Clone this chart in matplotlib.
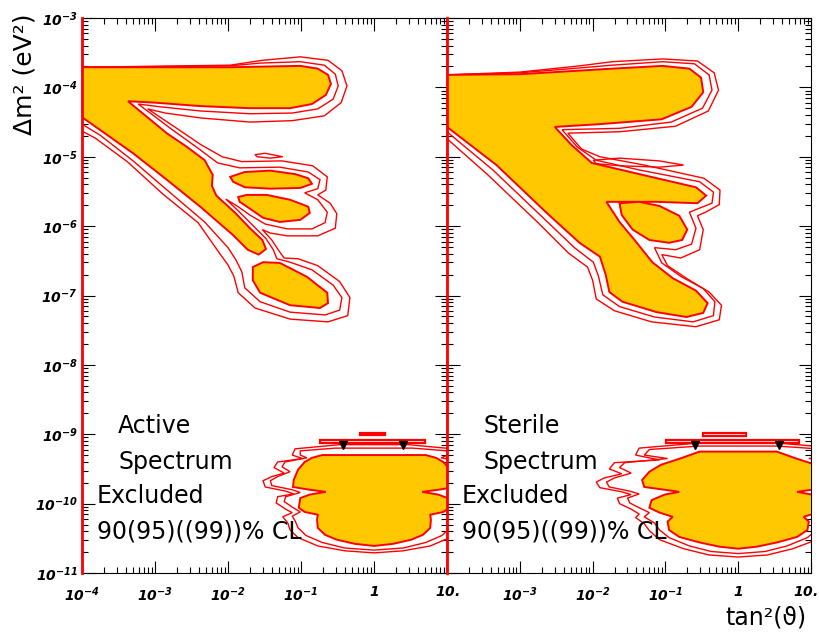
import numpy as np
import matplotlib.pyplot as plt
from matplotlib.ticker import FixedLocator, FixedFormatter, LogLocator, NullFormatter

# vertices are log10(tan^2 theta), log10(dm^2 / eV^2)

# ---------------- Active panel ----------------
act_lma_x = [-4.00, -1.97, -1.01, -0.77, -0.63, -0.59, -0.66, -0.85, -1.15, -1.70, -2.38, -3.00, -3.37, -2.84,
             -2.56, -2.32, -2.21, -2.22, -2.16, -1.90, -1.70, -1.53, -1.48, -1.58, -1.73, -1.93, -2.38, -2.84,
             -3.30, -4.00]
act_lma_y = [-3.71, -3.71, -3.69, -3.73, -3.82, -3.95, -4.11, -4.24, -4.30, -4.30, -4.27, -4.22, -4.20, -4.66,
             -4.86, -5.05, -5.26, -5.42, -5.56, -5.81, -6.03, -6.20, -6.33, -6.41, -6.34, -6.13, -5.72, -5.33,
             -4.95, -4.43]
act_islA_x = [-1.97, -1.77, -1.42, -1.08, -0.90, -0.85, -1.01, -1.42, -1.77, -1.93]
act_islA_y = [-5.29, -5.22, -5.20, -5.25, -5.31, -5.39, -5.45, -5.46, -5.44, -5.36]
act_islB_x = [-1.86, -1.74, -1.47, -1.15, -0.90, -0.88, -1.01, -1.29, -1.52, -1.74, -1.84]
act_islB_y = [-5.58, -5.55, -5.55, -5.62, -5.72, -5.81, -5.91, -5.94, -5.88, -5.72, -5.65]
act_islC_x = [-1.66, -1.52, -1.29, -0.92, -0.64, -0.63, -0.74, -1.15, -1.56, -1.66]
act_islC_y = [-6.59, -6.52, -6.53, -6.73, -6.96, -7.11, -7.18, -7.14, -6.96, -6.78]
act_sliver_x = [-1.63, -1.49, -1.25, -1.42, -1.60]
act_sliver_y = [-4.97, -4.95, -5.00, -5.02, -5.00]

act_cl95_x = [-4.00, -1.97, -1.56, -1.01, -0.68, -0.53, -0.49, -0.56, -0.77, -1.12, -1.70, -2.38, -2.93, -3.23,
              -2.79, -2.42, -2.14, -1.84, -1.29, -0.90, -0.74, -0.77, -0.95, -0.77, -0.64, -0.67, -0.85, -1.19,
              -1.49, -1.70, -1.86, -2.03, -1.86, -1.64, -1.48, -1.38, -1.33, -1.15, -0.85, -0.56, -0.44, -0.47,
              -0.67, -1.15, -1.56, -1.77, -1.81, -1.89, -2.00, -2.32, -2.79, -3.30, -3.75, -4.00]
act_cl95_y = [-3.71, -3.69, -3.65, -3.63, -3.68, -3.81, -3.98, -4.17, -4.31, -4.37, -4.38, -4.34, -4.28, -4.24,
              -4.59, -4.87, -5.09, -5.16, -5.15, -5.22, -5.33, -5.46, -5.52, -5.62, -5.80, -5.95, -6.04, -6.04,
              -5.97, -5.84, -5.72, -5.61, -5.78, -6.01, -6.18, -6.34, -6.47, -6.52, -6.63, -6.85, -7.03, -7.21,
              -7.28, -7.24, -7.09, -6.89, -6.66, -6.49, -6.31, -5.94, -5.52, -5.06, -4.69, -4.53]
act_cl99_x = [-4.00, -1.97, -1.53, -1.01, -0.63, -0.44, -0.37, -0.45, -0.68, -1.12, -1.70, -2.38, -2.86, -3.10,
              -2.73, -2.38, -2.08, -1.81, -1.26, -0.84, -0.64, -0.66, -0.77, -0.60, -0.51, -0.53, -0.77, -1.19,
              -1.42, -1.53, -1.40, -1.30, -1.23, -1.04, -0.77, -0.47, -0.33, -0.36, -0.63, -1.15, -1.63, -1.86,
              -1.92, -2.00, -2.11, -2.41, -2.89, -3.38, -3.82, -4.00]
act_cl99_y = [-3.71, -3.68, -3.61, -3.56, -3.61, -3.76, -3.98, -4.22, -4.41, -4.48, -4.50, -4.44, -4.37, -4.31,
              -4.57, -4.82, -5.00, -5.07, -5.06, -5.13, -5.29, -5.48, -5.55, -5.67, -5.82, -6.03, -6.14, -6.14,
              -6.10, -6.05, -6.20, -6.36, -6.46, -6.47, -6.57, -6.80, -7.03, -7.29, -7.38, -7.34, -7.18, -6.96,
              -6.72, -6.56, -6.40, -5.95, -5.54, -5.07, -4.73, -4.63]

# vacuum (just-so) region: left half, mirrored about tan^2 = 1
act_js_x = [-0.71, -0.85, -0.95, -1.04, -1.10, -1.11, -0.88, -0.66, -0.88, -1.01, -1.03, -0.95, -0.77, -0.78,
            -0.77, -0.67, -0.51, -0.26, 0.00]
act_js_y = [-9.30, -9.34, -9.40, -9.51, -9.66, -9.76, -9.80, -9.83, -9.87, -9.92, -10.06, -10.12, -10.16, -10.23,
            -10.35, -10.45, -10.52, -10.58, -10.61]
act_js95_x = [-0.53, -1.01, -1.01, -0.92, -1.22, -1.26, -1.15, -1.32, -1.42, -1.40, -1.12, -1.01, -1.21, -1.23,
              -1.12, -1.01, -1.12, -1.08, -1.04, -0.93, -0.71, -0.40, 0.00]
act_js95_y = [-9.20, -9.24, -9.30, -9.34, -9.40, -9.47, -9.54, -9.61, -9.67, -9.74, -9.80, -9.84, -9.90, -9.97,
              -10.05, -10.12, -10.18, -10.25, -10.35, -10.46, -10.56, -10.64, -10.67]
act_js99_x = [-0.47, -1.08, -1.12, -0.98, -1.32, -1.37, -1.23, -1.40, -1.52, -1.49, -1.21, -1.10, -1.32, -1.34,
              -1.21, -1.12, -1.25, -1.18, -1.15, -1.04, -0.77, -0.40, 0.00]
act_js99_y = [-9.15, -9.21, -9.30, -9.35, -9.40, -9.48, -9.56, -9.61, -9.67, -9.76, -9.82, -9.86, -9.90, -9.99,
              -10.08, -10.13, -10.19, -10.28, -10.38, -10.49, -10.61, -10.68, -10.71]
act_streak_x = [(-0.19, 0.15), (-0.74, 0.70)]
act_streak_y = [(-8.98, -9.01), (-9.08, -9.13)]
act_mark_x = [-0.42, 0.40]
act_mark_y = [-9.15, -9.15]

# ---------------- Sterile panel ----------------
ste_lma_x = [-4.00, -3.00, -1.73, -1.04, -0.67, -0.51, -0.48, -0.64, -1.05, -1.90, -2.52, -2.29, -2.01, -1.36,
             -0.58, -0.44, -0.56, -1.12, -1.81, -1.63, -1.40, -1.18, -0.90, -0.58, -0.42, -0.48, -0.71, -1.12,
             -1.59, -1.77, -1.82, -1.90, -2.18, -2.63, -3.32, -4.00]
ste_lma_y = [-3.82, -3.81, -3.73, -3.69, -3.73, -3.86, -4.07, -4.28, -4.46, -4.53, -4.57, -4.83, -5.09, -5.25,
             -5.44, -5.56, -5.67, -5.65, -5.65, -5.94, -6.23, -6.52, -6.75, -6.93, -7.11, -7.25, -7.31, -7.24,
             -7.09, -6.95, -6.70, -6.44, -6.24, -5.81, -5.12, -4.57]
ste_tongue_x = [-1.63, -1.36, -1.08, -0.81, -0.70, -0.77, -0.95, -1.22, -1.45, -1.60]
ste_tongue_y = [-5.67, -5.65, -5.71, -5.85, -6.05, -6.20, -6.24, -6.20, -6.05, -5.84]
ste_sliver_x = [-1.99, -1.63, -1.08, -0.75, -1.08, -1.63, -1.95]
ste_sliver_y = [-5.05, -5.02, -5.06, -5.12, -5.15, -5.13, -5.10]

ste_cl95_x = [-4.00, -3.00, -2.18, -1.73, -1.04, -0.60, -0.40, -0.36, -0.49, -0.92, -1.63, -2.42, -2.21, -1.95,
              -1.36, -0.53, -0.34, -0.36, -0.53, -0.67, -0.58, -0.64, -0.86, -1.15, -1.05, -0.78, -0.48, -0.32,
              -0.34, -0.62, -1.15, -1.63, -1.86, -1.92, -1.99, -2.25, -2.68, -3.37, -4.00]
ste_cl95_y = [-3.82, -3.79, -3.72, -3.68, -3.63, -3.66, -3.82, -4.04, -4.30, -4.50, -4.59, -4.61, -4.86, -5.05,
              -5.19, -5.36, -5.51, -5.67, -5.74, -5.80, -6.03, -6.26, -6.34, -6.31, -6.53, -6.73, -6.90, -7.09,
              -7.29, -7.38, -7.31, -7.16, -6.99, -6.72, -6.52, -6.31, -5.88, -5.19, -4.64]
ste_cl99_x = [-4.00, -3.00, -2.18, -1.73, -1.04, -0.56, -0.33, -0.27, -0.41, -0.86, -1.63, -2.34, -2.15, -1.90,
              -1.29, -0.47, -0.25, -0.26, -0.45, -0.56, -0.48, -0.53, -0.79, -1.05, -0.97, -0.70, -0.40, -0.23,
              -0.26, -0.58, -1.19, -1.70, -1.95, -2.00, -2.07, -2.33, -2.75, -3.44, -4.00]
ste_cl99_y = [-3.82, -3.78, -3.69, -3.63, -3.59, -3.62, -3.79, -4.04, -4.34, -4.56, -4.64, -4.66, -4.89, -5.00,
              -5.12, -5.31, -5.48, -5.69, -5.80, -5.85, -6.05, -6.34, -6.46, -6.41, -6.57, -6.76, -6.95, -7.14,
              -7.35, -7.45, -7.38, -7.22, -7.05, -6.78, -6.59, -6.39, -5.95, -5.26, -4.74]

ste_js_x = [-0.53, -0.77, -1.06, -1.22, -1.32, -1.29, -1.01, -0.81, -1.01, -1.19, -1.22, -1.08, -0.90, -0.97,
            -0.95, -0.81, -0.53, -0.26, 0.00]
ste_js_y = [-9.25, -9.34, -9.44, -9.54, -9.66, -9.76, -9.80, -9.83, -9.87, -9.95, -10.06, -10.13, -10.19, -10.26,
            -10.38, -10.48, -10.56, -10.62, -10.65]
ste_js95_x = [-0.53, -1.22, -1.29, -0.97, -1.56, -1.63, -1.47, -1.70, -1.81, -1.77, -1.49, -1.36, -1.52, -1.49,
              -1.36, -1.22, -1.29, -1.15, -1.08, -0.95, -0.67, -0.37, 0.00]
ste_js95_y = [-9.17, -9.22, -9.30, -9.35, -9.41, -9.48, -9.56, -9.63, -9.69, -9.76, -9.82, -9.86, -9.92, -9.99,
              -10.06, -10.13, -10.19, -10.28, -10.38, -10.49, -10.61, -10.69, -10.72]
ste_js99_x = [-0.47, -1.36, -1.41, -1.08, -1.70, -1.77, -1.60, -1.84, -1.95, -1.90, -1.60, -1.47, -1.66, -1.63,
              -1.47, -1.36, -1.41, -1.29, -1.22, -1.08, -0.75, -0.40, 0.00]
ste_js99_y = [-9.12, -9.20, -9.30, -9.37, -9.41, -9.50, -9.57, -9.63, -9.69, -9.77, -9.83, -9.87, -9.92, -10.00,
              -10.08, -10.15, -10.20, -10.29, -10.39, -10.52, -10.65, -10.74, -10.77]
ste_streak_x = [(-0.49, 0.11), (-0.99, 0.84)]
ste_streak_y = [(-8.98, -9.02), (-9.08, -9.13)]
ste_mark_x = [-0.60, 0.56]
ste_mark_y = [-9.15, -9.15]

words_act = ['Active', 'Spectrum', 'Excluded', '90(95)((99))% CL']
words_ste = ['Sterile', 'Spectrum', 'Excluded', '90(95)((99))% CL']

x_decades = [1e-4, 1e-3, 1e-2, 1e-1, 1, 10]
x_ticklabels = [r'$\mathbfit{10^{-4}}$', r'$\mathbfit{10^{-3}}$', r'$\mathbfit{10^{-2}}$',
                r'$\mathbfit{10^{-1}}$', r'$\mathbfit{1}$', r'$\mathbfit{10.}$']
y_decades = [10.0 ** k for k in range(-11, -2)]
y_ticklabels = [r'$\mathbfit{10^{%d}}$' % k for k in range(-11, -2)]

GOLD = '#ffc800'
RED = '#ff0000'


def pw(v):
    return np.power(10.0, np.asarray(v, dtype=float))


def mirror(half_x, ly):
    hx = np.asarray(half_x, dtype=float)
    yy = np.asarray(ly, dtype=float)
    return np.concatenate([hx, -hx[::-1]]), np.concatenate([yy, yy[::-1]])


def outline(ax, lx, ly, lw=1.0):
    ax.fill(pw(lx), pw(ly), fill=False, edgecolor=RED, lw=lw, zorder=2)


def region(ax, lx, ly):
    ax.fill(pw(lx), pw(ly), facecolor=GOLD, edgecolor=RED, lw=1.4, zorder=3)


def draw_panel(ax, lma, islands, cl95, cl99, slivers, js, js95, js99, streaks, marks, words):
    outline(ax, *cl99)
    outline(ax, *cl95)
    outline(ax, *mirror(*js99))
    outline(ax, *mirror(*js95))
    for sx, sy in zip(*streaks):
        outline(ax, [sx[0], sx[1], sx[1], sx[0]], [sy[0], sy[0], sy[1], sy[1]], lw=1.6)
    for s in slivers:
        outline(ax, *s)
    region(ax, *lma)
    for isl in islands:
        region(ax, *isl)
    region(ax, *mirror(*js))
    ax.plot(pw(marks[0]), pw(marks[1]), 'v', color='black', ms=6, zorder=5)
    ax.axvline(1e-4, color=RED, lw=2.0, clip_on=False, zorder=6)
    ax.text(0.099, 0.252, words[0], transform=ax.transAxes, fontsize=17, zorder=7)
    ax.text(0.099, 0.187, words[1], transform=ax.transAxes, fontsize=17, zorder=7)
    ax.text(0.041, 0.126, words[2], transform=ax.transAxes, fontsize=17, zorder=7)
    ax.text(0.041, 0.063, words[3], transform=ax.transAxes, fontsize=17, zorder=7)


fig = plt.figure(figsize=(8.19, 6.37), dpi=100)
ax1 = fig.add_axes([82 / 819, 1 - 573 / 637, 365 / 819, 555 / 637])
ax2 = fig.add_axes([447 / 819, 1 - 573 / 637, 364 / 819, 555 / 637])

draw_panel(ax1, (act_lma_x, act_lma_y),
           [(act_islA_x, act_islA_y), (act_islB_x, act_islB_y), (act_islC_x, act_islC_y)],
           (act_cl95_x, act_cl95_y), (act_cl99_x, act_cl99_y), [(act_sliver_x, act_sliver_y)],
           (act_js_x, act_js_y), (act_js95_x, act_js95_y), (act_js99_x, act_js99_y),
           (act_streak_x, act_streak_y), (act_mark_x, act_mark_y), words_act)
draw_panel(ax2, (ste_lma_x, ste_lma_y), [(ste_tongue_x, ste_tongue_y)],
           (ste_cl95_x, ste_cl95_y), (ste_cl99_x, ste_cl99_y), [(ste_sliver_x, ste_sliver_y)],
           (ste_js_x, ste_js_y), (ste_js95_x, ste_js95_y), (ste_js99_x, ste_js99_y),
           (ste_streak_x, ste_streak_y), (ste_mark_x, ste_mark_y), words_ste)

# right panel: no label at its left edge (shared with the left panel) and the last one tucked in
for ax, xl in ((ax1, x_ticklabels), (ax2, [''] + x_ticklabels[1:-1] + [''])):
    ax.set_xscale('log')
    ax.set_yscale('log')
    ax.set_xlim(1e-4, 10)
    ax.set_ylim(1e-11, 1e-3)
    ax.xaxis.set_major_locator(FixedLocator(x_decades))
    ax.xaxis.set_major_formatter(FixedFormatter(xl))
    ax.xaxis.set_minor_locator(LogLocator(base=10, subs=np.arange(2, 10), numticks=30))
    ax.xaxis.set_minor_formatter(NullFormatter())
    ax.yaxis.set_major_locator(FixedLocator(y_decades))
    ax.yaxis.set_minor_locator(LogLocator(base=10, subs=np.arange(2, 10), numticks=30))
    ax.yaxis.set_minor_formatter(NullFormatter())
    ax.tick_params(which='both', direction='in', top=True, right=True, width=0.8, labelsize=10)
    ax.tick_params(which='major', length=9)
    ax.tick_params(which='minor', length=4.5)
    ax.tick_params(axis='x', pad=9)
    ax.tick_params(axis='y', pad=3)
    for sp in ax.spines.values():
        sp.set_linewidth(0.8)

ax2.text(1.019, -0.0225, x_ticklabels[-1], transform=ax2.transAxes, fontsize=10, ha='right', va='top')

ax1.yaxis.set_major_formatter(FixedFormatter(y_ticklabels))
ax2.yaxis.set_major_formatter(NullFormatter())

fig.text(0.030, 1 - 74 / 637, 'Δm² (eV²)', rotation=90, fontsize=18, ha='center', va='center')
fig.text(766 / 819, 1 - 617 / 637, 'tan²(ϑ)', fontsize=17, ha='center', va='center')

fig.savefig('out.png', dpi=100)
